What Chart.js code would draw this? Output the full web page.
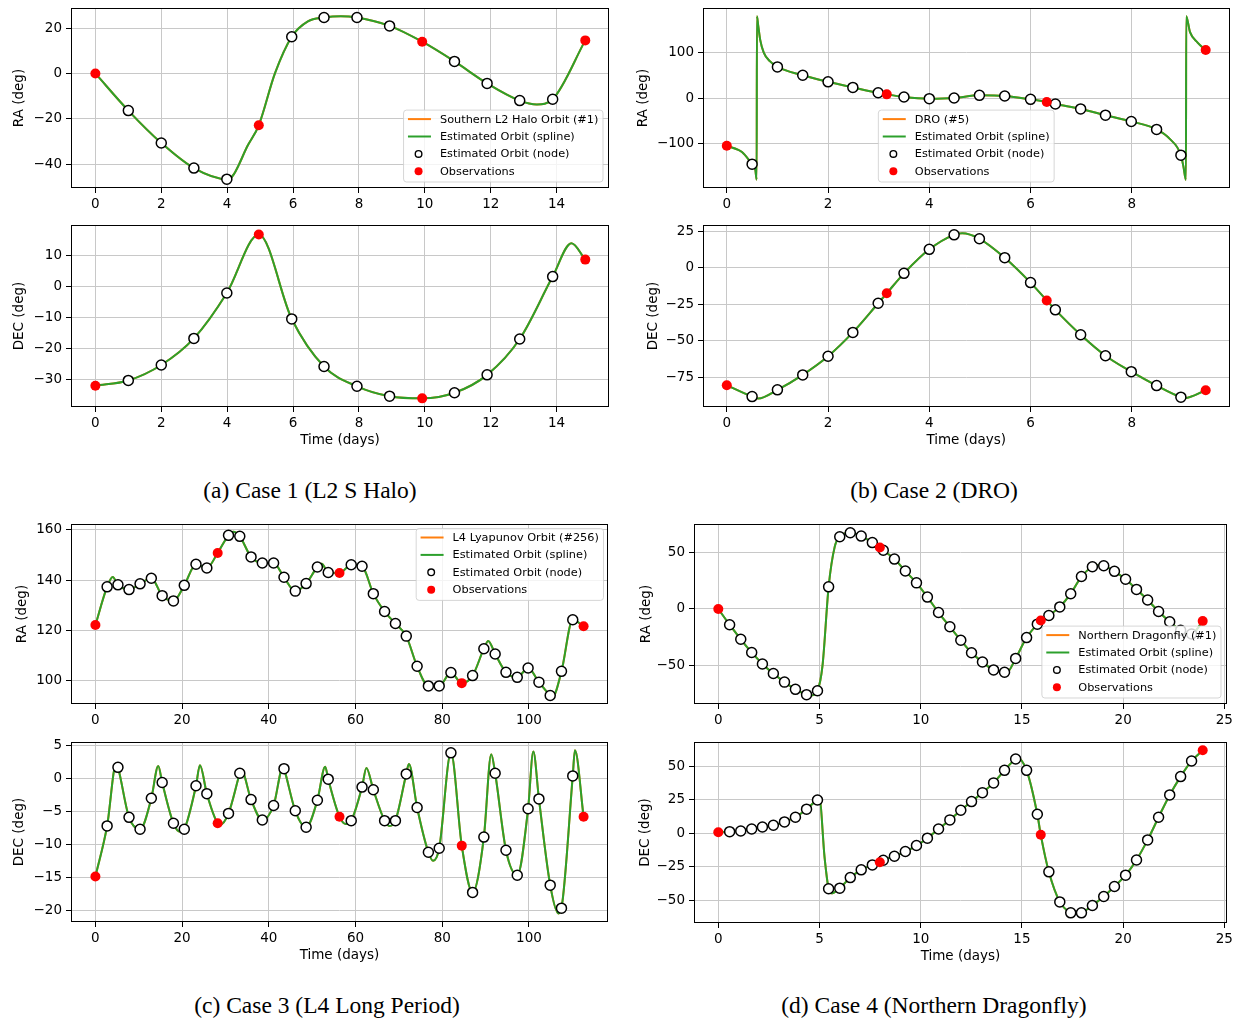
<!DOCTYPE html>
<html>
<head>
<meta charset="utf-8">
<script src="https://cdn.jsdelivr.net/npm/chart.js@4.4.1/dist/chart.umd.min.js"></script>
<style>
  html, body { margin: 0; padding: 0; background: #fff; overflow: hidden; }
  body { width: 1236px; height: 1023px; position: relative; }
  .caption {
    position: absolute;
    font-family: "Liberation Serif", "Times New Roman", serif;
    font-size: 23.5px;
    color: #000;
    white-space: nowrap;
    transform: translate(-50%, -50%);
  }
</style>
</head>
<body>
<div class="caption" style="left:310px; top:490px">(a) Case 1 (L2 S Halo)</div>
<div class="caption" style="left:934px; top:490px">(b) Case 2 (DRO)</div>
<div class="caption" style="left:327px; top:1005px">(c) Case 3 (L4 Long Period)</div>
<div class="caption" style="left:934px; top:1005px">(d) Case 4 (Northern Dragonfly)</div>

<script>
// ---------- Case 1: southern L2 halo ----------
const haloNodeT = [1.0, 2.0, 2.99, 3.99, 5.96, 6.94, 7.94, 8.93, 10.9, 11.89, 12.88, 13.88];
const haloRaNode = [-16.4, -30.7, -41.8, -46.7, 16.2, 24.7, 24.7, 21.0, 5.3, -4.4, -12.0, -11.4];
const haloDecNode = [-30.3, -25.3, -16.7, -2.0, -10.4, -25.8, -32.2, -35.4, -34.3, -28.5, -16.9, 3.3];
const haloObsT = [0, 4.96, 9.92, 14.87];
const haloRaObs = [0, -22.9, 14.0, 14.6];
const haloDecObs = [-32.0, 16.9, -36.1, 8.8];
// spline turning points between nodes
const haloRaBendT = [4.1, 4.2, 4.35, 4.6, 5.45, 6.45, 7.45, 13.4];
const haloRaBend = [-46.3, -44.6, -40.5, -32.5, 0.0, 23.0, 25.3, -13.7];
const haloDecBendT = [14.45];
const haloDecBend = [14.1];
const haloTimeTicks = [0, 2, 4, 6, 8, 10, 12, 14];
const haloRaTicks = [-40, -20, 0, 20];
const haloDecTicks = [-30, -20, -10, 0, 10];

// ---------- Case 2: DRO ----------
const droNodeT = [0.5, 1.0, 1.5, 2.0, 2.49, 2.99, 3.5, 4.0, 4.49, 4.99, 5.49, 6.0, 6.49, 6.99, 7.48, 7.99, 8.49, 8.97];
const droRaNode = [-145.5, 68.4, 50.0, 35.6, 23.3, 11.6, 2.2, -1.5, 0.0, 5.8, 4.4, -2.9, -13.1, -24.0, -37.8, -51.6, -69.1, -125.8];
const droDecNode = [-88.0, -83.4, -73.2, -60.5, -44.2, -24.3, -3.9, 12.5, 22.4, 19.7, 6.8, -10.2, -28.8, -45.8, -60.1, -71.0, -80.5, -88.4];
const droObsT = [0, 3.16, 6.32, 9.46];
const droRaObs = [-105.0, 8.0, -8.7, 105.5];
const droDecObs = [-80.3, -17.5, -22.4, -83.7];
// RA wraps from -180 to +180 twice
const droRaBendT = [0.3, 0.56, 0.59, 0.595, 0.62, 0.66, 0.73, 0.85, 8.75, 9.02, 9.07, 9.075, 9.15, 9.3];
const droRaBend = [-119, -155, -180, 180, 160, 128, 100, 81, -90, -151, -180, 180, 145, 122];
const droDecBendT = [0.62, 4.65, 9.05];
const droDecBend = [-89.3, 23.4, -89.0];
const droTimeTicks = [0, 2, 4, 6, 8];
const droRaTicks = [-100, 0, 100];
const droDecTicks = [-75, -50, -25, 0, 25];

// ---------- Case 3: L4 long period ----------
const l4NodeT = [2.7, 5.2, 7.75, 10.3, 12.9, 15.4, 18.0, 20.5, 23.2, 25.7, 30.7, 33.3, 35.9, 38.5, 41.1, 43.5, 46.1, 48.6, 51.2, 53.7,
  59.0, 61.5, 64.1, 66.7, 69.2, 71.7, 74.2, 76.8, 79.3, 82.0, 87.0, 89.6, 92.2, 94.7, 97.3, 99.8, 102.3, 104.9, 107.5, 110.1];
const l4RaNode = [137.3, 138.1, 136.2, 138.5, 140.7, 133.8, 131.7, 137.9, 146.3, 144.8, 157.8, 157.4, 149.2, 146.8, 146.8, 141.1, 135.6, 138.6, 145.2, 143.0,
  146.1, 145.5, 134.6, 127.5, 122.7, 117.7, 105.7, 97.9, 97.9, 103.2, 102.0, 112.7, 110.6, 103.3, 101.3, 105.0, 99.4, 94.1, 103.7, 124.2];
const l4DecNode = [-7.2, 1.7, -5.9, -7.7, -3.0, -0.6, -6.8, -7.7, -1.1, -2.3, -5.3, 0.8, -3.2, -6.3, -4.1, 1.5, -4.9, -7.4, -3.3, -0.1,
  -6.4, -1.3, -1.7, -6.4, -6.4, 0.7, -4.4, -11.2, -10.6, 3.9, -17.3, -8.9, 0.8, -10.9, -14.7, -4.6, -3.1, -16.2, -19.7, 0.4];
const l4ObsT = [0, 28.2, 56.3, 84.5, 112.6];
const l4RaObs = [122.1, 150.8, 142.8, 99.0, 121.6];
const l4DecObs = [-14.9, -6.8, -5.8, -10.2, -5.8];
const l4RaBendT = [4.0, 31.8, 52.2, 90.6, 105.4];
const l4RaBend = [141.2, 159.2, 146.5, 115.8, 93.4];
const l4DecBendT = [4.8, 14.5, 19.6, 24.1, 28.8, 33.6, 43.3, 53.0, 57.7, 62.5, 67.8, 72.3, 77.9, 91.3, 101.0, 106.8, 110.6];
const l4DecBend = [2.3, 1.9, -8.1, 2.0, -7.0, 1.4, 1.8, 1.8, -6.9, 1.6, -7.2, 2.2, -12.5, 3.7, 4.1, -20.5, 4.3];
const l4TimeTicks = [0, 20, 40, 60, 80, 100];
const l4RaTicks = [100, 120, 140, 160];
const l4DecTicks = [-20, -15, -10, -5, 0, 5];

// ---------- Case 4: northern dragonfly ----------
const dfNodeT = [0.56, 1.11, 1.65, 2.18, 2.72, 3.27, 3.81, 4.36, 4.9, 5.45, 6.0, 6.52, 7.06, 7.61, 8.15, 8.7, 9.24, 9.79, 10.33, 10.88, 11.44, 11.98,
  12.51, 13.05, 13.6, 14.14, 14.69, 15.23, 15.76, 16.33, 16.87, 17.41, 17.94, 18.48, 19.04, 19.57, 20.12, 20.66, 21.21, 21.75, 22.3, 22.84, 23.38];
const dfRaNode = [-14.0, -26.9, -38.6, -48.8, -57.3, -64.9, -71.3, -76.0, -72.5, 19.6, 64.0, 67.5, 64.6, 58.8, 52.0, 44.2, 33.6, 23.1, 10.5, -3.2, -15.8, -27.8,
  -38.9, -47.1, -54.1, -56.1, -43.9, -25.4, -13.5, -5.8, 1.8, 13.5, 28.7, 37.4, 38.3, 33.3, 26.3, 17.3, 7.9, -2.3, -11.4, -19.0, -22.2];
const dfDecNode = [1.2, 1.7, 3.2, 4.7, 6.0, 8.5, 12.0, 18.0, 24.9, -41.6, -41.1, -33.2, -27.4, -23.7, -20.2, -17.2, -13.7, -9.2, -3.7, 3.2, 10.0, 17.2,
  23.7, 30.4, 37.7, 47.1, 55.6, 47.1, 14.2, -28.9, -51.4, -59.6, -59.6, -54.1, -47.4, -39.9, -31.4, -20.0, -5.0, 12.0, 28.7, 42.4, 54.1];
const dfObsT = [0, 7.98, 15.93, 23.93];
const dfRaObs = [0, 54.4, -10.2, -10.8];
const dfDecObs = [0.7, -21.7, -1.2, 62.1];
const dfRaBendT = [4.6, 5.15, 5.75, 14.25, 18.75];
const dfRaBend = [-76.8, -50.0, 55.0, -56.4, 38.8];
const dfDecBendT = [5.0, 5.25, 5.58, 14.8, 17.68];
const dfDecBend = [25.4, -18.0, -45.0, 56.2, -60.5];
const dfTimeTicks = [0, 5, 10, 15, 20, 25];
const dfRaTicks = [-50, 0, 50];
const dfDecTicks = [-50, -25, 0, 25, 50];

Chart.defaults.font.family = '"DejaVu Sans", sans-serif';
Chart.defaults.font.size = 13.5;
Chart.defaults.color = '#000';

const fmtTick = (v) => (v < 0 ? '\u2212' + Math.abs(v) : String(v));

const toPoints = (ts, vs) => ts.map((t, i) => ({ x: t, y: vs[i] }));

// spline path: nodes, observations and turning points in time order
const curvePoints = (p) =>
  toPoints(p.nodeT, p.nodeV)
    .concat(toPoints(p.obsT, p.obsV), toPoints(p.bendT, p.bendV))
    .sort((a, b) => a.x - b.x);

// black box round the axes
const frameBox = {
  id: 'frameBox',
  afterDatasetsDraw(chart) {
    const { ctx, chartArea: a } = chart;
    ctx.save();
    ctx.strokeStyle = '#000';
    ctx.lineWidth = 1;
    ctx.strokeRect(Math.round(a.left) + 0.5, Math.round(a.top) + 0.5,
      Math.round(a.right - a.left) - 1, Math.round(a.bottom - a.top) - 1);
    ctx.restore();
  }
};

// legend drawn inside the axes, semi-transparent like matplotlib
const insideLegend = {
  id: 'insideLegend',
  afterDraw(chart, args, opts) {
    if (!opts || !opts.spot) return;
    const { ctx, chartArea: a } = chart;
    const sets = chart.data.datasets;
    ctx.save();
    ctx.font = '11.3px "DejaVu Sans"';
    const textW = Math.max(...sets.map((d) => ctx.measureText(d.label).width));
    const rowH = 17.4;
    const boxW = 4.4 + 23 + 9 + textW + 4.6;
    const boxH = 9 + rowH * (sets.length - 1) + 10.7;
    let x0 = a.right - opts.inset - boxW;
    if (opts.spot === 'lower center') x0 = (a.left + a.right - boxW) / 2;
    const y0 = opts.spot.startsWith('upper') ? a.top + opts.inset : a.bottom - opts.inset - boxH;

    ctx.beginPath();
    ctx.roundRect(x0, y0, boxW, boxH, 3);
    ctx.fillStyle = 'rgba(255,255,255,0.8)';
    ctx.fill();
    ctx.strokeStyle = 'rgba(204,204,204,0.8)';
    ctx.lineWidth = 1;
    ctx.stroke();

    sets.forEach((d, i) => {
      const cy = y0 + 9 + i * rowH;
      if (d.showLine) {
        ctx.beginPath();
        ctx.moveTo(x0 + 4.4, cy);
        ctx.lineTo(x0 + 27.4, cy);
        ctx.strokeStyle = d.borderColor;
        ctx.lineWidth = 2;
        ctx.stroke();
      } else {
        const hollow = d.pointBackgroundColor === '#ffffff';
        ctx.beginPath();
        ctx.arc(x0 + 15, cy, hollow ? 3.3 : 4, 0, Math.PI * 2);
        ctx.fillStyle = d.pointBackgroundColor;
        ctx.fill();
        if (hollow) {
          ctx.strokeStyle = d.pointBorderColor;
          ctx.lineWidth = 1.4;
          ctx.stroke();
        }
      }
      ctx.fillStyle = '#000';
      ctx.textBaseline = 'middle';
      ctx.textAlign = 'left';
      ctx.fillText(d.label, x0 + 36.4, cy + 0.5);
    });
    ctx.restore();
  }
};

const panels = [
  { frame: [71, 8, 609, 188], xr: [-0.74, 15.59], yr: [-50.6, 28.9], xTicks: haloTimeTicks, yTicks: haloRaTicks,
    title: 'RA (deg)', gap: 51.5, orbit: 'Southern L2 Halo Orbit (#1)', legend: { spot: 'lower right', inset: 6 },
    nodeT: haloNodeT, nodeV: haloRaNode, obsT: haloObsT, obsV: haloRaObs, bendT: haloRaBendT, bendV: haloRaBend },
  { frame: [71, 225, 609, 407], xr: [-0.74, 15.59], yr: [-38.9, 20.0], xTicks: haloTimeTicks, yTicks: haloDecTicks,
    title: 'DEC (deg)', gap: 52, time: true, orbit: 'Southern L2 Halo Orbit (#1)',
    nodeT: haloNodeT, nodeV: haloDecNode, obsT: haloObsT, obsV: haloDecObs, bendT: haloDecBendT, bendV: haloDecBend },

  { frame: [703, 8, 1233, 188], xr: [-0.47, 9.93], yr: [-198, 198], xTicks: droTimeTicks, yTicks: droRaTicks,
    title: 'RA (deg)', gap: 60, orbit: 'DRO (#5)', legend: { spot: 'lower center', inset: 6 },
    nodeT: droNodeT, nodeV: droRaNode, obsT: droObsT, obsV: droRaObs, bendT: droRaBendT, bendV: droRaBend },
  { frame: [703, 225, 1233, 407], xr: [-0.47, 9.93], yr: [-95.1, 29.1], xTicks: droTimeTicks, yTicks: droDecTicks,
    title: 'DEC (deg)', gap: 50, time: true, orbit: 'DRO (#5)',
    nodeT: droNodeT, nodeV: droDecNode, obsT: droObsT, obsV: droDecObs, bendT: droDecBendT, bendV: droDecBend },

  { frame: [71, 524, 608, 704], xr: [-5.63, 118.23], yr: [90.7, 162.3], xTicks: l4TimeTicks, yTicks: l4RaTicks,
    title: 'RA (deg)', gap: 48.5, orbit: 'L4 Lyapunov Orbit (#256)', legend: { spot: 'upper right', inset: 4.5 },
    nodeT: l4NodeT, nodeV: l4RaNode, obsT: l4ObsT, obsV: l4RaObs, bendT: l4RaBendT, bendV: l4RaBend },
  { frame: [71, 742, 608, 922], xr: [-5.63, 118.23], yr: [-21.8, 5.55], xTicks: l4TimeTicks, yTicks: l4DecTicks,
    title: 'DEC (deg)', gap: 52, time: true, orbit: 'L4 Lyapunov Orbit (#256)',
    nodeT: l4NodeT, nodeV: l4DecNode, obsT: l4ObsT, obsV: l4DecObs, bendT: l4DecBendT, bendV: l4DecBend },

  { frame: [694, 524, 1227, 704], xr: [-1.2, 25.13], yr: [-84.3, 75.3], xTicks: dfTimeTicks, yTicks: dfRaTicks,
    title: 'RA (deg)', gap: 48, orbit: 'Northern Dragonfly (#1)', legend: { spot: 'lower right', inset: 6 },
    nodeT: dfNodeT, nodeV: dfRaNode, obsT: dfObsT, obsV: dfRaObs, bendT: dfRaBendT, bendV: dfRaBend },
  { frame: [694, 742, 1227, 923], xr: [-1.2, 25.13], yr: [-67.2, 68.3], xTicks: dfTimeTicks, yTicks: dfDecTicks,
    title: 'DEC (deg)', gap: 49, time: true, orbit: 'Northern Dragonfly (#1)',
    nodeT: dfNodeT, nodeV: dfDecNode, obsT: dfObsT, obsV: dfDecObs, bendT: dfDecBendT, bendV: dfDecBend }
];

const gridStyle = { color: '#c8c8c8', lineWidth: 1, tickColor: '#000', tickLength: 5, tickWidth: 1 };

panels.forEach((p) => {
  const [fl, ft, fr, fb] = p.frame;
  const axisW = 70;
  const padTop = 8;
  const padRight = Math.min(8, 1236 - fr);
  const axisH = p.time ? 46 : 26;

  const canvas = document.createElement('canvas');
  canvas.width = fr - fl + axisW + padRight;
  canvas.height = fb - ft + padTop + axisH;
  canvas.style.cssText = `position:absolute;left:${fl - axisW}px;top:${ft - padTop}px;` +
    `width:${canvas.width}px;height:${canvas.height}px`;
  document.body.appendChild(canvas);

  const curve = curvePoints(p);

  new Chart(canvas, {
    type: 'scatter',
    data: {
      datasets: [
        { label: p.orbit, data: curve, showLine: true, borderColor: '#ff7f0e', borderWidth: 2,
          pointRadius: 0, cubicInterpolationMode: 'monotone', order: 3 },
        { label: 'Estimated Orbit (spline)', data: curve, showLine: true, borderColor: '#2ca02c', borderWidth: 2,
          pointRadius: 0, cubicInterpolationMode: 'monotone', order: 2 },
        { label: 'Estimated Orbit (node)', data: toPoints(p.nodeT, p.nodeV), showLine: false,
          pointRadius: 5, pointBackgroundColor: '#ffffff', pointBorderColor: '#000000', pointBorderWidth: 1.5, order: 1 },
        { label: 'Observations', data: toPoints(p.obsT, p.obsV), showLine: false,
          pointRadius: 5, pointBackgroundColor: '#ff0000', pointBorderColor: '#ff0000', pointBorderWidth: 0, order: 0 }
      ]
    },
    options: {
      responsive: false,
      devicePixelRatio: 1,
      animation: false,
      events: [],
      layout: { padding: { left: 0, top: padTop, right: padRight, bottom: 0 } },
      plugins: {
        legend: { display: false },
        tooltip: { enabled: false },
        insideLegend: p.legend || {}
      },
      scales: {
        x: {
          type: 'linear',
          min: p.xr[0],
          max: p.xr[1],
          grid: gridStyle,
          border: { display: false },
          ticks: { autoSkip: false, maxRotation: 0, padding: 3, callback: fmtTick },
          title: { display: !!p.time, text: 'Time (days)', font: { size: 13.5 }, padding: { top: 0, bottom: 4.9 } },
          afterBuildTicks: (scale) => { scale.ticks = p.xTicks.map((v) => ({ value: v })); },
          afterFit: (scale) => { scale.height = axisH; scale.paddingLeft = 0; scale.paddingRight = 0; }
        },
        y: {
          type: 'linear',
          min: p.yr[0],
          max: p.yr[1],
          grid: gridStyle,
          border: { display: false },
          ticks: { autoSkip: false, padding: 4, callback: fmtTick },
          title: { display: true, text: p.title, font: { size: 13.5 },
            padding: { top: axisW - p.gap - 8.1, bottom: 0 } },
          afterBuildTicks: (scale) => { scale.ticks = p.yTicks.map((v) => ({ value: v })); },
          afterFit: (scale) => { scale.width = axisW; scale.paddingTop = 0; scale.paddingBottom = 0; }
        }
      }
    },
    plugins: [frameBox, insideLegend]
  });
});
</script>
</body>
</html>
